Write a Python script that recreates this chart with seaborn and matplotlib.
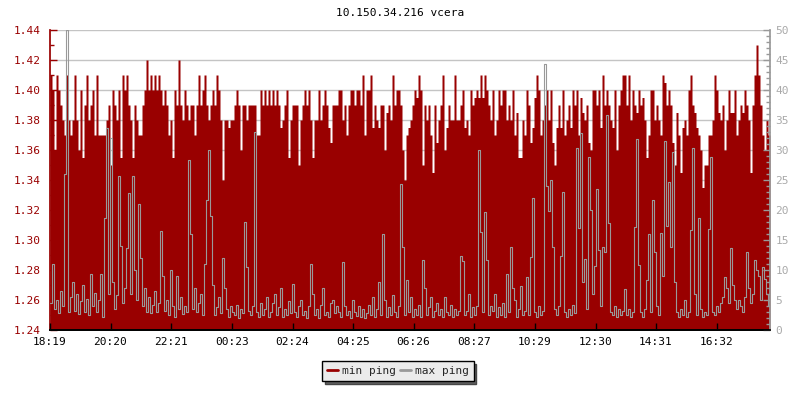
import numpy as np
import pandas as pd
import matplotlib
matplotlib.use("Agg")
import matplotlib.pyplot as plt
import seaborn as sns

title = "10.150.34.216 vcera"
tick_labels = ["18:19", "20:20", "22:21", "00:23", "02:24", "04:25",
               "06:26", "08:27", "10:29", "12:30", "14:31", "16:32"]
tick_minutes = [0, 121, 242, 364, 485, 606, 727, 848, 970, 1091, 1212, 1333]
step_minutes = 4

min_ping = [
    1.41, 1.40, 1.36, 1.41, 1.40, 1.39, 1.38, 1.37, 1.41, 1.38, 1.37, 1.38,
    1.41, 1.38, 1.36, 1.40, 1.355, 1.39, 1.41, 1.38, 1.39, 1.40, 1.37, 1.41,
    1.37, 1.37, 1.37, 1.37, 1.38, 1.39, 1.35, 1.40, 1.39, 1.38, 1.40, 1.355,
    1.41, 1.40, 1.41, 1.39, 1.38, 1.355, 1.39, 1.38, 1.37, 1.37, 1.39, 1.40,
    1.42, 1.40, 1.41, 1.40, 1.41, 1.40, 1.41, 1.40, 1.39, 1.40, 1.39, 1.37,
    1.38, 1.355, 1.40, 1.39, 1.42, 1.39, 1.38, 1.40, 1.39, 1.38, 1.39, 1.39,
    # 20:20 - 22:21 region
    1.37, 1.39, 1.41, 1.39, 1.40, 1.41, 1.39, 1.38, 1.39, 1.40, 1.39, 1.41,
    1.40, 1.38, 1.34, 1.38, 1.38, 1.375, 1.38, 1.38, 1.39, 1.40, 1.39, 1.36,
    1.39, 1.39, 1.38, 1.39, 1.39, 1.39, 1.39, 1.37, 1.37, 1.40, 1.39, 1.40,
    1.39, 1.40, 1.39, 1.40, 1.39, 1.40, 1.39, 1.375, 1.38, 1.39, 1.40, 1.355,
    1.38, 1.39, 1.39, 1.39, 1.35, 1.38, 1.39, 1.40, 1.39, 1.40, 1.38, 1.355,
    1.38, 1.38, 1.40, 1.38, 1.39, 1.40, 1.39, 1.375, 1.365, 1.39, 1.39, 1.39,
    # 02:24 region
    1.40, 1.40, 1.38, 1.39, 1.37, 1.39, 1.40, 1.40, 1.39, 1.40, 1.40, 1.39,
    1.41, 1.37, 1.40, 1.40, 1.41, 1.375, 1.39, 1.38, 1.375, 1.39, 1.39, 1.36,
    1.385, 1.39, 1.38, 1.41, 1.39, 1.40, 1.40, 1.39, 1.36, 1.34, 1.37, 1.375,
    1.38, 1.39, 1.40, 1.395, 1.41, 1.40, 1.35, 1.39, 1.38, 1.39, 1.37, 1.345,
    1.39, 1.365, 1.38, 1.39, 1.41, 1.36, 1.375, 1.39, 1.38, 1.38, 1.41, 1.38,
    1.38, 1.39, 1.40, 1.375, 1.38, 1.37, 1.40, 1.39, 1.395, 1.40, 1.395, 1.41,
    # 08:27 region
    1.395, 1.41, 1.40, 1.39, 1.38, 1.40, 1.37, 1.38, 1.40, 1.39, 1.40, 1.40,
    1.38, 1.39, 1.38, 1.40, 1.37, 1.385, 1.355, 1.355, 1.38, 1.37, 1.40, 1.39,
    1.365, 1.375, 1.395, 1.41, 1.40, 1.37, 1.38, 1.39, 1.40, 1.38, 1.40, 1.365,
    1.35, 1.375, 1.39, 1.375, 1.40, 1.37, 1.38, 1.39, 1.375, 1.40, 1.39, 1.40,
    1.37, 1.395, 1.385, 1.38, 1.39, 1.365, 1.36, 1.40, 1.40, 1.39, 1.40, 1.375,
    1.41, 1.39, 1.40, 1.39, 1.38, 1.375, 1.40, 1.36, 1.39, 1.40, 1.41, 1.41,
    # 14:31 region
    1.39, 1.41, 1.38, 1.40, 1.39, 1.385, 1.40, 1.39, 1.395, 1.38, 1.355, 1.37,
    1.40, 1.40, 1.38, 1.39, 1.38, 1.37, 1.41, 1.405, 1.39, 1.40, 1.39, 1.365,
    1.35, 1.385, 1.37, 1.345, 1.375, 1.38, 1.37, 1.40, 1.41, 1.39, 1.385, 1.375,
    1.37, 1.36, 1.335, 1.35, 1.35, 1.37, 1.37, 1.38, 1.41, 1.40, 1.385, 1.38,
    1.39, 1.36, 1.38, 1.40, 1.385, 1.385, 1.40, 1.37, 1.38, 1.39, 1.385, 1.40,
    1.39, 1.38, 1.345, 1.39, 1.41, 1.43, 1.41, 1.39, 1.37, 1.36, 1.38, 1.37, 1.37,
]

max_ping = [
    4.5, 11, 3.5, 5, 2.8, 6.5, 4, 26, 50, 3, 5.5, 8,
    3.2, 6, 2.6, 4.8, 7.5, 3, 5.2, 2.5, 9.3, 4, 6.2, 3,
    5, 9.3, 2.2, 18.6, 33.6, 6, 32, 8, 3.5, 5.8, 25.7, 14,
    4.5, 7, 13.6, 22.8, 6, 25.7, 10, 5, 21, 12, 4, 7,
    3, 5.5, 2.8, 4.2, 6.5, 3, 4.5, 16.5, 9, 3.2, 5, 2.5,
    10, 4, 2.2, 9, 3.5, 5.5, 2.6, 4, 3, 28.4, 16, 3.5,
    7, 3, 4.5, 6, 2.5, 11, 21.7, 30, 19, 7.5, 2.5, 3.8,
    5.5, 2.8, 12, 7, 3.5, 2.2, 4, 3, 2.5, 4.2, 2, 3.5,
    2.8, 18, 10.5, 3.2, 2.5, 4, 33, 3, 2.2, 4.5, 2.5, 3.5,
    5.5, 2.2, 3, 4.5, 6, 2.5, 3.8, 7, 2.2, 3.5, 2.5, 4.8,
    2.8, 7.7, 3, 2.2, 4, 5, 2.5, 3.2, 2, 4, 11, 6,
    2.5, 3.5, 2, 4.2, 7, 2.5, 3, 2.2, 4.5, 5, 2.8, 4,
    3, 2.2, 11.4, 4, 2.5, 3.2, 2, 5, 3, 2.4, 4, 2.2,
    3.5, 2, 2.8, 4.2, 2.5, 5.5, 2.2, 3.5, 8, 2.5, 16, 5,
    2.2, 3.8, 2.5, 5.8, 3, 2.2, 4, 24.3, 13.9, 2.5, 8.3, 3,
    5.5, 2.2, 3.5, 2.5, 4.2, 2.2, 11.7, 7, 2.5, 3.8, 5.5, 2.2,
    3.2, 4.5, 2.5, 3.5, 2.2, 5.5, 3, 2.5, 4.2, 2.2, 3.5, 2.5,
    3.2, 12.3, 11.5, 2.5, 3.2, 6, 2.2, 3.8, 2.5, 4, 30, 16.4,
    3, 19.6, 11.6, 2.5, 4, 3.2, 6, 2.2, 3.8, 2.5, 4.5, 2.2,
    9.3, 3, 13.9, 7, 5, 2.2, 3.5, 7.3, 2.5, 3.2, 8.9, 2.5,
    12.2, 22, 3, 2.2, 4, 2.5, 3.2, 44.4, 24, 19.8, 25, 13.9,
    3.5, 2.5, 4, 12.3, 23, 3, 2.2, 3.5, 2.5, 4.2, 2.8, 30.4,
    17, 32.8, 8, 11.8, 3.5, 28.9, 20, 6, 10.7, 23.5, 13.3, 4,
    13.8, 13, 35.8, 17.8, 3, 2.5, 4, 2.2, 3.5, 2.5, 3.2, 6.8,
    2.5, 3.5, 2.2, 3, 17.2, 31.8, 10.8, 3, 2.2, 3.5, 8.3, 16,
    3, 21.7, 13, 4, 2.5, 16.2, 9, 31.5, 17.3, 24.7, 13.9, 29.6,
    8, 3, 2.2, 3.5, 2.5, 5, 2.2, 3, 16.7, 30.4, 6, 2.5,
    18.6, 3.5, 2.2, 3, 2.5, 16.8, 28.8, 3, 2.5, 4, 3, 4.5,
    5.5, 8.9, 7, 4.5, 13.6, 7.5, 5, 3.5, 5, 4, 3, 5.5,
    13, 7, 4.5, 6, 11.7, 10, 9, 5, 10.5, 8.5, 6, 4, 5.5,
]

RED = "#990000"
GRAY = "#999999"
FONT = "DejaVu Sans Mono"

sns.set_theme(style="white")
plt.rcParams["font.family"] = [FONT, "DejaVu Sans"]

minutes = np.arange(len(min_ping)) * step_minutes
df = pd.DataFrame({"t": minutes, "min ping": min_ping, "max ping": max_ping})

fig = plt.figure(figsize=(8, 4), dpi=100)
ax = fig.add_axes([50 / 800, 70 / 400, 720 / 800, 300 / 400])
ax2 = ax.twinx()

# min ping: filled area on left axis
ax.fill_between(df["t"], 1.24, df["min ping"], step="post", color=RED,
                linewidth=0, zorder=1)
ax.set_xlim(0, 1440)
ax.set_ylim(1.24, 1.44)
ax.set_yticks(np.round(np.arange(1.24, 1.4401, 0.02), 2))
ax.set_yticks(np.round(np.arange(1.25, 1.44, 0.02), 2), minor=True)
ax.yaxis.set_major_formatter(matplotlib.ticker.FormatStrFormatter("%.2f"))
ax.set_axisbelow(True)
ax.grid(axis="y", which="major", color="#c4c4c4", linewidth=1)
ax.grid(axis="x", visible=False)
ax.set_xticks(tick_minutes)
ax.set_xticklabels(tick_labels)
ax.tick_params(axis="x", length=0, pad=5, labelsize=8, labelcolor="black")
ax.tick_params(axis="y", which="major", direction="in", length=5, width=1,
               color=RED, labelcolor=RED, labelsize=8, pad=7)
ax.tick_params(axis="y", which="minor", direction="in", length=3, width=1,
               color=RED, left=True)

# max ping: gray line on right axis
sns.lineplot(data=df, x="t", y="max ping", ax=ax2, color=GRAY, linewidth=0.8,
             drawstyle="steps-post", legend=False)
ax2.set_ylim(0, 50)
ax2.set_yticks(np.arange(0, 51, 5))
ax2.set_yticks(np.arange(0, 51, 1), minor=True)
ax2.set_ylabel("")
ax2.set_xlabel("")
ax.set_xlabel("")
ax.set_ylabel("")
ax2.grid(False)
ax2.tick_params(axis="y", which="major", direction="in", length=5, width=1,
                color=GRAY, labelcolor="#aaaaaa", labelsize=8, pad=4)
ax2.tick_params(axis="y", which="minor", direction="in", length=3, width=1,
                color=GRAY, right=True)
ax2.xaxis.set_visible(True)
ax2.tick_params(axis="x", direction="in", length=5, width=1, color="black",
                labelbottom=False, bottom=True)

for a in (ax, ax2):
    a.spines["top"].set_visible(False)
ax.spines["left"].set_color(RED)
ax.spines["right"].set_visible(False)
ax2.spines["left"].set_visible(False)
ax2.spines["right"].set_color(GRAY)
ax2.spines["bottom"].set_color("black")
ax.spines["bottom"].set_color("black")

fig.text(0.5, 1 - 13 / 400, title, ha="center", va="center", fontsize=8,
         color="black")

handles = [matplotlib.lines.Line2D([], [], color=RED, linewidth=2),
           matplotlib.lines.Line2D([], [], color=GRAY, linewidth=2)]
leg = fig.legend(handles, ["min ping", "max ping"], loc="center",
                 bbox_to_anchor=(398 / 800, 1 - 371 / 400), ncol=2,
                 fontsize=8, frameon=True, fancybox=False,
                 shadow={"facecolor": "#606060", "alpha": 1},
                 handlelength=1.0, handletextpad=0.3, columnspacing=0.4,
                 borderpad=0.45, borderaxespad=0)
leg.get_frame().set_edgecolor("black")
leg.get_frame().set_facecolor("#ebebeb")
leg.get_frame().set_linewidth(1)
leg.get_frame().set_alpha(1)

fig.savefig("out.png", dpi=100)
